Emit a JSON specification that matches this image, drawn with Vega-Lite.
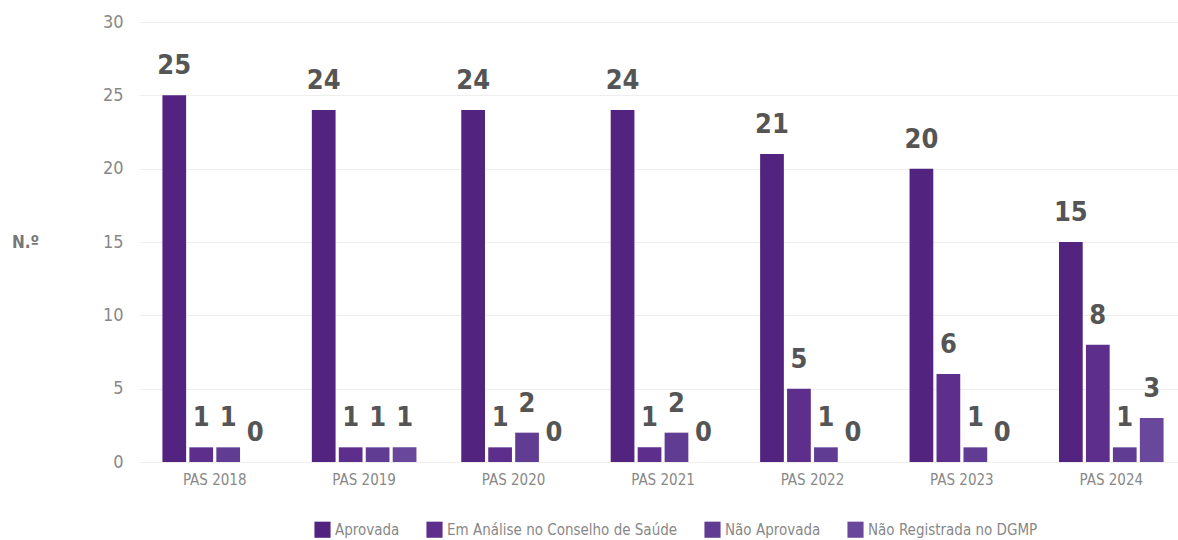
{
  "$schema": "https://vega.github.io/schema/vega-lite/v6.json",
  "autosize": {"type": "none"},
  "width": 1046,
  "height": 440,
  "padding": {"left": 140, "top": 22, "right": 0, "bottom": 78},
  "background": "white",
  "config": {
    "font": "DejaVu Sans Condensed",
    "view": {"stroke": null}
  },
  "data": {
    "values": [
      {"ano": "PAS 2018", "situacao": "Aprovada", "n": 25},
      {"ano": "PAS 2018", "situacao": "Em Análise no Conselho de Saúde", "n": 1},
      {"ano": "PAS 2018", "situacao": "Não Aprovada", "n": 1},
      {"ano": "PAS 2018", "situacao": "Não Registrada no DGMP", "n": 0},
      {"ano": "PAS 2019", "situacao": "Aprovada", "n": 24},
      {"ano": "PAS 2019", "situacao": "Em Análise no Conselho de Saúde", "n": 1},
      {"ano": "PAS 2019", "situacao": "Não Aprovada", "n": 1},
      {"ano": "PAS 2019", "situacao": "Não Registrada no DGMP", "n": 1},
      {"ano": "PAS 2020", "situacao": "Aprovada", "n": 24},
      {"ano": "PAS 2020", "situacao": "Em Análise no Conselho de Saúde", "n": 1},
      {"ano": "PAS 2020", "situacao": "Não Aprovada", "n": 2},
      {"ano": "PAS 2020", "situacao": "Não Registrada no DGMP", "n": 0},
      {"ano": "PAS 2021", "situacao": "Aprovada", "n": 24},
      {"ano": "PAS 2021", "situacao": "Em Análise no Conselho de Saúde", "n": 1},
      {"ano": "PAS 2021", "situacao": "Não Aprovada", "n": 2},
      {"ano": "PAS 2021", "situacao": "Não Registrada no DGMP", "n": 0},
      {"ano": "PAS 2022", "situacao": "Aprovada", "n": 21},
      {"ano": "PAS 2022", "situacao": "Em Análise no Conselho de Saúde", "n": 5},
      {"ano": "PAS 2022", "situacao": "Não Aprovada", "n": 1},
      {"ano": "PAS 2022", "situacao": "Não Registrada no DGMP", "n": 0},
      {"ano": "PAS 2023", "situacao": "Aprovada", "n": 20},
      {"ano": "PAS 2023", "situacao": "Em Análise no Conselho de Saúde", "n": 6},
      {"ano": "PAS 2023", "situacao": "Não Aprovada", "n": 1},
      {"ano": "PAS 2023", "situacao": "Não Registrada no DGMP", "n": 0},
      {"ano": "PAS 2024", "situacao": "Aprovada", "n": 15},
      {"ano": "PAS 2024", "situacao": "Em Análise no Conselho de Saúde", "n": 8},
      {"ano": "PAS 2024", "situacao": "Não Aprovada", "n": 1},
      {"ano": "PAS 2024", "situacao": "Não Registrada no DGMP", "n": 3}
    ]
  },
  "encoding": {
    "x": {
      "field": "ano", "type": "nominal", "title": null,
      "scale": {"paddingInner": 0.3, "paddingOuter": 0.15},
      "axis": {"labelAngle": 0, "ticks": false, "domain": false, "labelPadding": 10, "labelFontSize": 15, "labelColor": "#888888", "labelFont": "DejaVu Sans Condensed"}
    },
    "xOffset": {
      "field": "situacao", "type": "nominal",
      "scale": {"paddingInner": 0.12, "paddingOuter": 0},
      "sort": ["Aprovada", "Em Análise no Conselho de Saúde", "Não Aprovada", "Não Registrada no DGMP"]
    },
    "y": {
      "field": "n", "type": "quantitative",
      "scale": {"domain": [0, 30], "nice": false},
      "axis": {
        "values": [0, 5, 10, 15, 20, 25, 30],
        "ticks": false, "domain": false, "labelPadding": 17,
        "labelFontSize": 18, "labelColor": "#888888",
        "gridColor": "#eeeeee", "gridWidth": 1,
        "title": "N.º", "titleAngle": 0, "titleX": -115, "titleY": 220,
        "titleAlign": "center", "titleBaseline": "middle",
        "titleFontSize": 17, "titleColor": "#777777", "titleFontWeight": "bold"
      }
    }
  },
  "layer": [
    {
      "mark": {"type": "bar"},
      "encoding": {
        "color": {
          "field": "situacao", "type": "nominal", "title": null,
          "sort": ["Aprovada", "Em Análise no Conselho de Saúde", "Não Aprovada", "Não Registrada no DGMP"],
          "scale": {
            "domain": ["Aprovada", "Em Análise no Conselho de Saúde", "Não Aprovada", "Não Registrada no DGMP"],
            "range": ["#52237f", "#5d2e8b", "#603c93", "#69489b"]
          },
          "legend": {
            "orient": "none", "direction": "horizontal",
            "legendX": 174, "legendY": 499,
            "symbolType": "square", "symbolSize": 260, "symbolStrokeWidth": 0,
            "labelFontSize": 15, "labelColor": "#888888", "columnPadding": 26,
            "labelLimit": 300
          }
        }
      }
    },
    {
      "mark": {"type": "text", "baseline": "alphabetic", "dy": -21, "fontSize": 27, "fontWeight": "bold", "color": "#555555"},
      "encoding": {
        "text": {"field": "n", "type": "quantitative"}
      }
    }
  ]
}
